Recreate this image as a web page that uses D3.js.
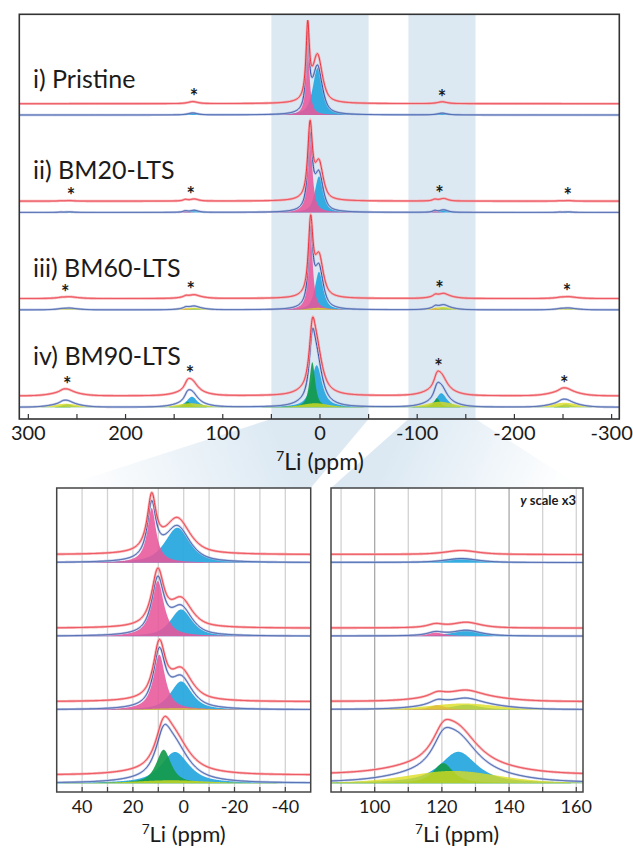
<!DOCTYPE html>
<html><head><meta charset="utf-8">
<script src="https://cdn.jsdelivr.net/npm/d3@7"></script>
<style>
body{margin:0;background:#fff}
svg{display:block}
text{font-family:Lato,"Open Sans",sans-serif;fill:#1b1b1b}
</style>
</head><body>
<svg id="chart" width="633" height="848"></svg>
<script>
// ---------------- data ----------------
const sampleLabels = ["i) Pristine", "ii) BM20-LTS", "iii) BM60-LTS", "iv) BM90-LTS"];
const sidebandSpacing = 128.3;            // ppm between spinning sidebands
const sidebandOrders = [2, 1, 0, -1, -2]; // order of the height columns below
// fitted components (one entry per component)
const peakSample  = [0, 0, 1, 1, 2, 2, 2, 3, 3, 3];
const peakType    = ["blue", "pink", "blue", "pink", "blue", "pink", "yellow", "blue", "green", "yellow"];
const peakCenter  = [2.5, 12.6, 1.0, 10.2, 1.0, 9.6, 2.0, 3.4, 7.9, 5.0];     // ppm
const peakHWHM    = [5.8, 2.1, 5.0, 2.9, 5.0, 2.8, 12.0, 6.5, 3.5, 16.0];     // ppm
const peakLorentz = [0.7, 1.0, 0.7, 0.9, 0.7, 0.9, 0.3, 0.8, 0.8, 0.3];
const peakHeights = [           // intensity at sideband orders +2, +1, 0, -1, -2
  [0, 2.0, 47, 1.8, 0],
  [0, 0, 73.5, 0, 0],
  [0.5, 2.0, 36, 2.5, 0.5],
  [0.3, 1.4, 74, 1.6, 0.3],
  [0.4, 1.5, 38, 2.2, 0.4],
  [0.3, 1.3, 74, 2.0, 0.3],
  [1.4, 2.2, 2, 2.8, 1.5],
  [3, 10.5, 42, 14, 3],
  [1.2, 5.5, 45, 9, 1.2],
  [3.5, 4, 4, 5.5, 4.5]
];
const asteriskPPM = [[129.6, -125.5], [256, 133, -123, -255], [262, 133, -123, -254], [260, 133.7, -122, -251.4]];
const topTicks = [300, 200, 100, 0, -100, -200, -300];
const topMinorTicks = [300, 250, 200, 150, 100, 50, 0, -50, -100, -150, -200, -250, -300];
const leftTicks = [40, 20, 0, -20, -40];
const leftGrid = [40, 30, 20, 10, 0, -10, -20, -30, -40];
const rightTicks = [-100, -120, -140, -160];
const rightGrid = [-90, -100, -110, -120, -130, -140, -150, -160];
const zoomBands = [[50, -50], [-91, -160]];

// ---------------- styles / layout ----------------
const fillColor = {pink: "#e8579b", blue: "#2aa9df", green: "#139a4b", yellow: "#dcdc1e"};
const fillOpacity = {pink: 0.88, blue: 0.95, green: 0.92, yellow: 0.78};
const drawOrder = ["blue", "pink", "green", "yellow"];
const bandColor = "#dce9f3";
const labelRaise = [27, 33, 33, 42];   // px above each row baseline

const svg = d3.select("#chart");
const defs = svg.append("defs");

function pv(x, c, w, eta) {
  const t = ((x - c) / w) ** 2;
  return eta / (1 + t) + (1 - eta) * Math.exp(-Math.LN2 * t);
}
function compValue(i, x) {
  let s = 0;
  sidebandOrders.forEach((o, j) => {
    const h = peakHeights[i][j];
    if (h > 0) s += h * pv(x, peakCenter[i] + o * sidebandSpacing, peakHWHM[i], peakLorentz[i]);
  });
  return s;
}
function totalValue(sample, x) {
  let s = 0;
  peakSample.forEach((ps, i) => { if (ps === sample) s += compValue(i, x); });
  return s;
}

// ---------------- panels ----------------
const topP = {x0: 19.3, x1: 619.3, y0: 14.3, y1: 419};
const leftP = {x0: 56.7, x1: 310.7, y0: 488, y1: 792};
const rightP = {x0: 331, x1: 583, y0: 488, y1: 792};

const xTop = d3.scaleLinear().domain([309.3, -307.9]).range([topP.x0, topP.x1]);
const xLeft = d3.scaleLinear().domain([50, -50]).range([leftP.x0, leftP.x1]);
const xRight = d3.scaleLinear().domain([-87, -162]).range([rightP.x0, rightP.x1]);
const rowTop = d3.scaleLinear().domain([0, 3]).range([115, 407.3]);
const rowBottom = d3.scaleLinear().domain([0, 3]).range([562.7, 783.3]);

// bands + fans
const gradL = defs.append("linearGradient").attr("id", "fanL").attr("gradientUnits", "userSpaceOnUse")
  .attr("x1", xTop(50)).attr("y1", topP.y1).attr("x2", leftP.x0 + 30).attr("y2", leftP.y0);
gradL.append("stop").attr("offset", 0).attr("stop-color", bandColor).attr("stop-opacity", 1);
gradL.append("stop").attr("offset", 1).attr("stop-color", bandColor).attr("stop-opacity", 0.05);
const gradR = defs.append("linearGradient").attr("id", "fanR").attr("gradientUnits", "userSpaceOnUse")
  .attr("x1", xTop(-91)).attr("y1", topP.y1).attr("x2", rightP.x1 - 30).attr("y2", rightP.y0);
gradR.append("stop").attr("offset", 0).attr("stop-color", bandColor).attr("stop-opacity", 1);
gradR.append("stop").attr("offset", 1).attr("stop-color", bandColor).attr("stop-opacity", 0.05);

zoomBands.forEach((b, i) => {
  svg.append("rect").attr("x", xTop(b[0])).attr("y", topP.y0)
    .attr("width", xTop(b[1]) - xTop(b[0])).attr("height", topP.y1 - topP.y0).attr("fill", bandColor);
  const P = i === 0 ? leftP : rightP;
  svg.append("path")
    .attr("d", `M${xTop(b[0])},${topP.y1}L${xTop(b[1])},${topP.y1}L${P.x1},${P.y0}L${P.x0},${P.y0}Z`)
    .attr("fill", i === 0 ? "url(#fanL)" : "url(#fanR)");
});

function clip(id, P) {
  defs.append("clipPath").attr("id", id).append("rect")
    .attr("x", P.x0).attr("y", P.y0).attr("width", P.x1 - P.x0).attr("height", P.y1 - P.y0);
}
clip("cTop", topP); clip("cLeft", leftP); clip("cRight", rightP);

function drawSpectra(g, x, ppmFrom, ppmTo, step, rowY, k, redOff, withStars) {
  const grid = d3.range(ppmFrom, ppmTo, -step);
  grid.push(ppmTo);
  sampleLabels.forEach((lab, s) => {
    const base = rowY(s);
    const y = d3.scaleLinear().domain([0, 100]).range([base, base - 100 * k]);
    const comps = peakSample.map((ps, i) => i).filter(i => peakSample[i] === s);
    drawOrder.forEach(type => {
      comps.filter(i => peakType[i] === type).forEach(i => {
        const pts = grid.map(p => ({p, v: compValue(i, p)}));
        g.append("path").datum(pts)
          .attr("d", d3.area().defined(d => d.v * k > 0.15).x(d => x(d.p)).y0(base).y1(d => y(d.v)))
          .attr("fill", fillColor[type]).attr("fill-opacity", fillOpacity[type]);
      });
    });
    const tot = grid.map(p => ({p, v: totalValue(s, p)}));
    const lineB = d3.line().x(d => x(d.p)).y(d => y(d.v));
    const lineR = d3.line().x(d => x(d.p)).y(d => y(d.v) - redOff);
    g.append("path").datum(tot).attr("d", lineB).attr("fill", "none")
      .attr("stroke", "#a9b8e0").attr("stroke-width", 2.4).attr("stroke-opacity", 0.7);
    g.append("path").datum(tot).attr("d", lineB).attr("fill", "none")
      .attr("stroke", "#2f4c9f").attr("stroke-width", 1);
    g.append("path").datum(tot).attr("d", lineR).attr("fill", "none")
      .attr("stroke", "#f6a2a6").attr("stroke-width", 2.6).attr("stroke-opacity", 0.8);
    g.append("path").datum(tot).attr("d", lineR).attr("fill", "none")
      .attr("stroke", "#e9313d").attr("stroke-width", 1);
    if (withStars) {
      svg.append("text").attr("x", 33).attr("y", base - labelRaise[s])
        .attr("font-size", 25).text(lab);
      asteriskPPM[s].forEach(a => {
        const near = tot.filter(d => Math.abs(d.p - a) < 6);
        const m = d3.max(near, d => d.v);
        svg.append("text").attr("x", x(a)).attr("y", y(m) - redOff - 8.5 + 11.3)
          .attr("text-anchor", "middle").attr("font-size", 20).attr("font-weight", 700).text("*");
      });
    }
  });
}

// top panel
const gTop = svg.append("g").attr("clip-path", "url(#cTop)");
drawSpectra(gTop, xTop, 309.3, -307.9, 0.25, rowTop, 1, 11.3, true);
svg.append("rect").attr("x", topP.x0).attr("y", topP.y0).attr("width", topP.x1 - topP.x0)
  .attr("height", topP.y1 - topP.y0).attr("fill", "none").attr("stroke", "#333").attr("stroke-width", 1.6);
topMinorTicks.forEach(t => {
  svg.append("line").attr("x1", xTop(t)).attr("x2", xTop(t)).attr("y1", topP.y1).attr("y2", topP.y1 - 5)
    .attr("stroke", "#333").attr("stroke-width", 1.2);
});
topTicks.forEach(t => {
  svg.append("text").attr("x", xTop(t)).attr("y", 440).attr("text-anchor", "middle")
    .attr("font-size", 20).text(String(t));
});
function axisTitle(cx, cy, fs) {
  const t = svg.append("text").attr("x", cx).attr("y", cy).attr("text-anchor", "middle").attr("font-size", fs);
  t.append("tspan").attr("font-size", fs * 0.62).attr("dy", -fs * 0.38).text("7");
  t.append("tspan").attr("dy", fs * 0.38).text("Li (ppm)");
}
axisTitle(xTop(0), 470, 23);

// bottom panels
function bottomPanel(P, x, grid, ticks, darkGrid, clipId, from, to, k, absLabels) {
  grid.forEach(t => {
    svg.append("line").attr("x1", x(t)).attr("x2", x(t)).attr("y1", P.y0).attr("y2", P.y1)
      .attr("stroke", darkGrid.includes(t) ? "#a9a9a9" : "#d2d2d2").attr("stroke-width", 1.3);
  });
  const g = svg.append("g").attr("clip-path", `url(#${clipId})`);
  drawSpectra(g, x, from, to, 0.1, rowBottom, k, 8, false);
  svg.append("rect").attr("x", P.x0).attr("y", P.y0).attr("width", P.x1 - P.x0)
    .attr("height", P.y1 - P.y0).attr("fill", "none").attr("stroke", "#444").attr("stroke-width", 1.5);
  grid.forEach(t => {
    svg.append("line").attr("x1", x(t)).attr("x2", x(t)).attr("y1", P.y1).attr("y2", P.y1 - 5)
      .attr("stroke", "#444").attr("stroke-width", 1.2);
  });
  ticks.forEach(t => {
    svg.append("text").attr("x", x(t)).attr("y", 813).attr("text-anchor", "middle")
      .attr("font-size", 18).text(String(absLabels ? Math.abs(t) : t));
  });
  axisTitle((P.x0 + P.x1) / 2, 842, 22);
}
bottomPanel(leftP, xLeft, leftGrid, leftTicks, [], "cLeft", 50, -50, 0.745, false);
bottomPanel(rightP, xRight, rightGrid, rightTicks, [-100, -140], "cRight", -87, -162, 2.235, true);

const ys = svg.append("text").attr("x", 576).attr("y", 504.5).attr("text-anchor", "end")
  .attr("font-size", 13).attr("font-weight", 700);
ys.append("tspan").attr("font-style", "italic").text("y");
ys.append("tspan").text(" scale x3");
</script>
</body></html>
